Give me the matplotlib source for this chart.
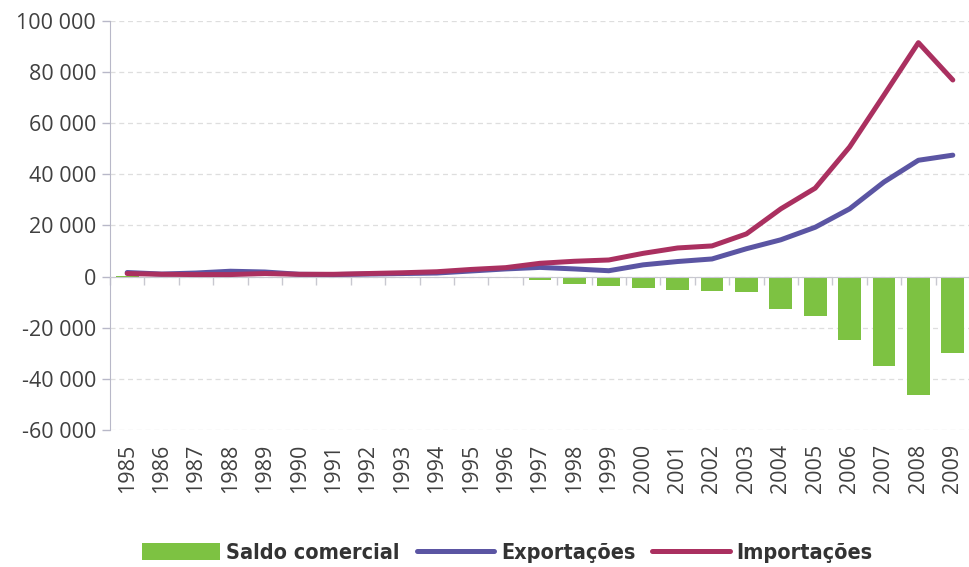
import matplotlib
matplotlib.use("Agg")
import matplotlib.pyplot as plt
import numpy as np
from matplotlib.ticker import FuncFormatter

years = [str(y) for y in range(1985, 2010)]
saldo = [400, 0, 0, 0, 0, 0, 0, 0, 0, 0, -300, -700, -1300, -2900, -3500,
         -4500, -5200, -5500, -6100, -12700, -15500, -24700, -34900, -46300, -29700]
exportacoes = [1600, 1000, 1400, 2100, 1800, 900, 800, 1000, 1200, 1400, 2200,
               3000, 3600, 3000, 2300, 4600, 5900, 6900, 10900, 14400, 19300,
               26500, 37000, 45500, 47500]
importacoes = [1200, 900, 800, 800, 1200, 900, 900, 1200, 1500, 1900, 2800,
               3500, 5200, 6000, 6500, 9100, 11200, 12000, 16700, 26500, 34600,
               50700, 71000, 91500, 76900]
y_ticks = [-60000, -40000, -20000, 0, 20000, 40000, 60000, 80000, 100000]

GREEN = "#7dc242"
BLUE = "#5b55a3"
RED = "#aa3060"
TXT = "#404040"

plt.rcParams["font.family"] = ["Open Sans", "DejaVu Sans"]

fig = plt.figure(figsize=(9.7, 5.67), dpi=100)
ax = fig.add_axes([0.1134, 0.2416, 0.8866, 0.7215])

x = np.arange(len(years))
b = ax.bar(x, saldo, width=0.66, color=GREEN, zorder=2, label="Saldo comercial")
l1, = ax.plot(x, exportacoes, color=BLUE, lw=3.6, zorder=3, label="Exportações",
              solid_capstyle="round")
l2, = ax.plot(x, importacoes, color=RED, lw=3.6, zorder=4, label="Importações",
              solid_capstyle="round")

ax.set_xlim(-0.5, len(years) - 0.5)
ax.set_ylim(-60000, 100000)
ax.set_yticks(y_ticks)
ax.yaxis.set_major_formatter(FuncFormatter(lambda v, p: f"{int(v):,}".replace(",", " ")))
ax.tick_params(axis="y", colors="#b8b8c8", labelcolor=TXT, labelsize=15.5,
               length=6, width=1, pad=4)
ax.yaxis.grid(True, linestyle=(0, (4, 3)), color="#dedede", lw=0.9, zorder=0)

for s in ["top", "right"]:
    ax.spines[s].set_visible(False)
ax.spines["left"].set_color("#b8b8c8")
ax.spines["bottom"].set_position(("data", 0))
ax.spines["bottom"].set_color("#c8c8d0")
ax.set_xticks(np.arange(len(years) + 1) - 0.5)
ax.set_xticklabels([])
ax.tick_params(axis="x", colors="#c8c8d0", length=6, width=1)

sec = ax.secondary_xaxis(0.0)
sec.set_xticks(x)
sec.set_xticklabels(years, rotation=90)
sec.tick_params(length=0, labelsize=15.5, labelcolor=TXT, pad=10)
sec.spines["bottom"].set_visible(False)

fig.legend([b, l1, l2], ["Saldo comercial", "Exportações", "Importações"],
           loc="center", bbox_to_anchor=(0.523, 0.025), ncol=3, frameon=False,
           prop={"family": "DejaVu Sans", "stretch": "condensed",
                 "weight": "bold", "size": 15.5},
           labelcolor="#333333", handlelength=3.6, handleheight=0.85,
           handletextpad=0.3, columnspacing=0.8, borderpad=0)

fig.savefig("out.png", dpi=100)
